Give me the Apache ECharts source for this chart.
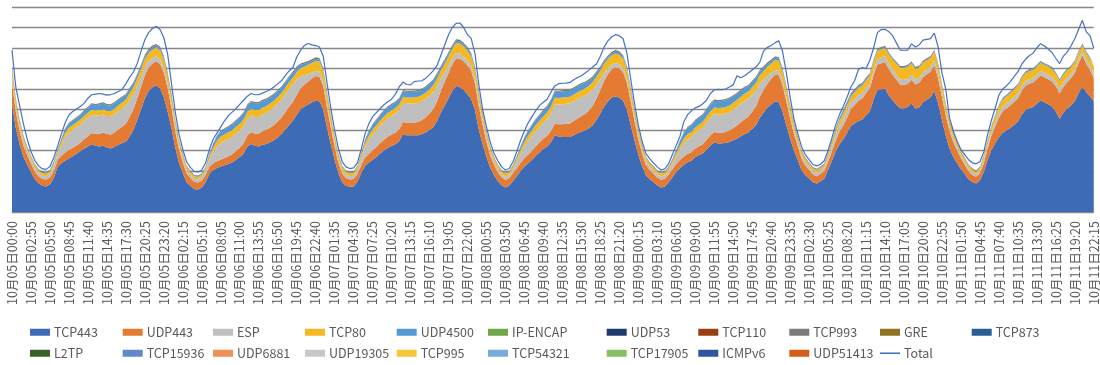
<!DOCTYPE html>
<html><head><meta charset="utf-8">
<script src="https://cdn.jsdelivr.net/npm/echarts@6/dist/echarts.min.js"></script>
<style>html,body{margin:0;padding:0;background:#fff}#c{width:1100px;height:365px}</style>
</head><body><div id="c"></div>
<script>
// 35-minute samples from 10月05日00:00 to 10月11日22:15
const stepMinutes = 35;

const tcp443 = [
53,41,33,27,23,19.5,16,14,12.8,12.5,
13.5,16.5,22,23.8,25,26.2,27.2,28.4,29.6,31,
32,33,32.3,32,32.5,31.5,31,31.8,32.8,33.6,
34.3,37,40,45,50,55.5,59,60.8,61.8,60.2,
56,49,41,31.5,24,19,14.5,12.8,11.2,11,
12,14.5,18.5,20.5,21.5,22.2,22.8,23.4,24.2,25.5,
26.8,28.5,32,33.2,32.3,32,32.8,33.2,34,35,
36.4,38,40.2,42.5,44.5,47.5,50,51.5,52.5,53.5,
54.3,54,50,41,33,25.5,19,14.5,12.8,12.3,
12.5,14.8,19,22.5,24,25.5,26.8,28.5,30,31.3,
32.2,33,34.5,38,37.5,37.4,37.5,37.4,38,38.8,
40,41.5,44.5,48.5,52,55.5,59,61.5,61,59.5,
57.5,55,49.5,40,33,26.8,21.5,18,15,13,
11.9,12.8,15.2,17.5,20,22.2,23.8,25.5,27.5,29.2,
30.8,32,34,37.4,36.8,36.6,36.6,36.6,37.5,38.4,
39.2,39.7,40.8,42.3,45,48,51.5,54,55.8,56.4,
55.8,54.3,50,42.5,35,28,22.5,18,16,14.6,
13,12,12.5,14.5,17,19.5,21.5,23,24.3,25,
26.8,27.8,28.5,30.5,32.5,34,33.4,33.5,33.7,34.1,
35,35.8,37,38,38.8,40.5,42.3,46,48.5,50.8,
52.5,54,53.5,49,42.5,36,30,25.5,20.5,18,
16.5,14.5,13.9,15,16.2,20.5,25,29.5,33,35.5,
38.5,42,43.2,44.5,45,47.2,49,55,59.5,59.8,
60.2,57,54.5,52.5,50.6,50.6,51.2,53,50.4,51,
53.5,54.8,56,59,53,45,37.5,31,27,23.8,
21,18.5,16,14.6,13.9,15.5,19.5,25.2,30,33.4,
36.5,38.6,39.7,41,42.5,44,47.5,49.8,50.6,51.2,
52.8,54.5,53.5,52.6,51.5,49,45.5,48.5,50.5,52,
54,58,61,58.5,56.5,54];

const udp443 = [
10,8,6.5,5.5,4.8,4.2,3.8,3.5,3.3,3.3,
3.3,3.4,3.4,3.7,4,4,4.1,4.1,4.2,4.6,
5,5.5,5.8,6.2,6.3,6.5,6.8,7,7.5,8,
8.8,9.5,10,10.5,11,11.3,11.5,11.7,11.7,12,
12,11.5,10,8,6.5,5.2,4.3,3.8,3.5,3.4,
3.4,3.5,3.5,3.3,3.2,3.3,3.5,3.8,4,4.3,
4.6,5,5.4,5.7,6,6.3,6.6,6.9,7.2,7.5,
7.8,8.1,8.4,8.8,9.2,9.7,10.2,10.7,11.2,11.6,
12,12,11.5,10,8.2,6.5,5,4.2,3.8,3.6,
3.6,3.7,3.8,4,4.3,4.6,4.9,5.1,5.3,5.5,
5.6,5.7,5.8,5.9,6,6,6.2,6.5,6.9,7.4,
8,8.8,9.7,10.6,11.5,12.3,13,13.5,13.8,14,
14,13.8,13,11.5,9.5,7.5,6,5,4.3,3.9,
3.7,3.7,3.8,3.9,4,4.1,4.2,4.4,4.6,4.8,
5,5.2,5.5,5.8,6,6.2,6.4,6.6,6.9,7.2,
7.6,8.1,8.7,9.5,10.5,11.5,12.5,13.3,13.8,14.2,
14.3,14,13.2,11.5,9.5,7.5,6,5,4.5,4.1,
3.8,3.7,3.7,3.8,3.9,4,4,4.1,4.1,4.1,
4.2,4.3,4.5,4.7,4.9,5,5.1,5.2,5.3,5.6,
6,6.4,6.8,7.3,7.8,8.4,9.2,10.2,11,11.8,
12.5,13,13.3,12.8,11.5,9.8,8.2,6.8,5.5,4.7,
4.1,3.8,3.6,3.6,3.7,4,4.5,5.2,6,6.8,
7.5,8.2,9,9.8,10.4,10.8,11.2,11.8,12.5,12.8,
13,12.8,12.4,12,11.6,11.4,11.4,11.5,11.8,12,
12.2,12.4,12.5,12.6,12.2,11.2,9.8,8.5,7.2,6.2,
5.2,4.5,3.9,3.5,3.3,3.4,4.2,5.5,7,8.2,
9.5,10.5,10.8,11,11.2,11.4,11.6,11.8,12,12,
12.1,12.2,12.2,12.2,12.3,12.3,12.3,12.5,12.8,13.2,
13.8,14.6,15.5,14,12.8,11.4];

const esp = [
3,2.5,2.2,2,1.8,1.7,1.6,1.6,1.6,1.6,
1.8,2.5,2.8,5,7.5,8.5,8.8,8.9,8.9,9,
9,9,9,9,8.8,8.8,9,9,9,9,
8.8,8.3,7.5,6.2,5,4,3.2,2.8,2.5,2.4,
2.3,2.2,2,1.9,1.8,1.7,1.6,1.6,1.5,1.5,
1.6,2,3.5,5.5,7.2,8.2,8.4,8.5,8.5,8.5,
8.4,8.3,8.2,8.1,8.1,8.1,8.2,8.3,8.4,8.5,
8.6,8.7,8.8,8.8,8.5,7.5,6,4.5,3.5,2.8,
2.5,2.4,2.3,2.1,1.9,1.8,1.7,1.6,1.6,1.6,
1.6,1.9,3,5,6.8,7.8,8.2,8.5,8.7,8.9,
9,9.2,9.3,9.4,9.5,9.5,9.4,9.3,9.2,9,
8.7,8.2,7.3,6,4.6,3.6,2.9,2.6,2.5,2.4,
2.4,2.3,2.2,2.1,2,1.8,1.7,1.6,1.6,1.6,
1.6,1.6,1.9,3,4.5,5.8,6.8,7.3,7.5,7.6,
7.8,8.2,8.8,9.3,9.6,9.8,9.8,9.8,9.7,9.5,
9.3,9,8.5,7.8,6.6,5.2,3.8,2.8,2.3,2.1,
2,2,2,1.9,1.8,1.7,1.7,1.6,1.6,1.6,
1.6,1.6,1.6,1.8,2.5,3.5,5,6.5,7.2,7.4,
7.6,7.9,8.2,8.5,8.7,8.9,9,9,9,9,
9,9,9,8.9,8.7,8.4,7.8,6.5,5,3.7,
2.8,2.3,2.2,2.1,2,1.9,1.8,1.7,1.6,1.6,
1.6,1.6,1.6,1.6,1.7,2,2.4,2.8,3.1,3.3,
3.3,3.2,3,2.8,2.6,2.5,2.4,2.4,2.6,2.8,
2.9,2.8,2.6,2.5,2.4,2.4,2.4,2.4,2.4,2.4,
2.4,2.4,2.4,2.4,2.3,2.2,2,1.9,1.8,1.7,
1.6,1.5,1.4,1.4,1.3,1.4,1.6,1.8,2,2.2,
2.3,2.4,2.4,2.4,2.4,2.4,2.3,2.2,2.2,2.1,
2.1,2.1,2.1,2.2,2.2,2.3,2.4,2.3,2.2,2.1,
2,2,1.9,2,2.2,2.4];

const tcp80 = [
4,3,2.5,2,1.6,1.4,1.3,1.2,1.2,1.2,
1.2,1.3,1.4,1.8,2.2,2.4,2.4,2.4,2.4,2.4,
2.4,2.4,2.4,2.4,2.5,2.5,2.5,2.6,2.7,2.8,
3,3.2,3.4,3.6,3.7,3.8,3.9,4,4.2,4.2,
4.1,3.9,3.5,2.8,2.2,1.8,1.5,1.3,1.2,1.2,
1.2,1.3,1.6,2.2,2.8,3.1,3.2,3.2,3.2,3.2,
3.2,3.3,3.3,3.3,3.3,3.3,3.3,3.3,3.3,3.3,
3.3,3.3,3.3,3.3,3.4,3.6,3.9,4.2,4.6,4.8,
5,5,4.8,4.2,3.4,2.7,2,1.6,1.4,1.3,
1.3,1.4,1.6,2,2.2,2.3,2.4,2.5,2.6,2.7,
2.8,2.8,2.8,2.9,2.9,2.9,2.9,3,3,3.1,
3.2,3.4,3.6,3.9,4.2,4.5,4.7,4.9,4.9,4.9,
4.8,4.7,4.4,3.8,3.1,2.5,2,1.7,1.5,1.4,
1.3,1.3,1.4,1.6,1.9,2.2,2.5,2.7,2.9,3,
3.1,3.2,3.2,3.2,3.2,3.2,3.2,3.2,3.2,3.3,
3.4,3.5,3.6,3.8,4,4.2,4.4,4.5,4.6,4.6,
4.6,4.5,4.3,3.7,3.1,2.5,2,1.7,1.5,1.4,
1.3,1.3,1.3,1.3,1.5,1.7,2,2.2,2.4,2.5,
2.6,2.7,2.8,2.9,3,3.1,3.2,3.2,3.2,3.3,
3.3,3.4,3.4,3.5,3.5,3.6,3.8,4,4.3,4.5,
4.7,4.8,4.8,4.6,4.1,3.5,2.8,2.3,1.9,1.6,
1.4,1.3,1.3,1.3,1.3,1.5,1.8,2.1,2.4,2.6,
2.8,3,3.2,3.5,3.7,3.8,3.9,4,4,4,
3.9,4.2,4.8,5.3,5.6,5.8,5.8,5.5,5.2,5,
4.7,4.4,4.2,4,3.8,3.4,3,2.6,2.2,1.9,
1.7,1.5,1.3,1.2,1.1,1.2,1.5,1.8,2.2,2.6,
3,3.3,3.4,3.5,3.6,3.7,3.8,3.8,3.9,3.9,
3.9,3.9,3.9,3.8,3.8,3.7,3.7,3.6,3.5,3.3,
3.2,3,2.9,3,3.1,3.3];

const udp4500 = [
.8,.6,.5,.4,.4,.3,.3,.3,.3,.3,
.4,.6,.6,1.1,1.6,1.9,2,2,2.1,2.2,
2.3,2.5,2.6,2.8,2.8,2.8,2.7,2.6,2.5,2.3,
2.1,1.9,1.7,1.5,1.4,1.3,1.2,1.1,1,1,
1,.9,.8,.6,.5,.4,.3,.3,.3,.3,
.3,.5,.9,1.5,2.1,2.4,2.5,2.6,2.7,2.8,
2.9,3,3.1,3.2,3.3,3.3,3.2,3.1,3,2.9,
2.8,2.7,2.5,2.4,2.2,2,1.7,1.4,1.1,1,
.9,.9,.8,.7,.6,.5,.4,.3,.3,.3,
.3,.4,.7,1.3,1.8,2.2,2.4,2.5,2.6,2.6,
2.6,2.6,2.6,2.7,2.7,2.7,2.7,2.7,2.6,2.5,
2.4,2.2,2,1.7,1.4,1.2,1.1,1,1,1,
1,.9,.8,.7,.6,.5,.4,.3,.3,.3,
.3,.3,.4,.8,1.3,1.8,2.2,2.4,2.5,2.6,
2.7,2.8,2.9,3,3,3,3,3,3,2.9,
2.8,2.6,2.4,2.1,1.8,1.5,1.2,1,.9,.9,
.9,.9,.8,.7,.6,.5,.4,.3,.3,.3,
.3,.3,.3,.4,.7,1.2,2,2.7,3.1,3.3,
3.3,3.3,3.3,3.3,3.3,3.3,3.3,3.3,3.3,3.2,
3.1,3,2.9,2.8,2.6,2.4,2.2,1.9,1.6,1.3,
1.1,1,1,.9,.8,.7,.6,.5,.4,.3,
.3,.3,.3,.3,.3,.4,.6,.8,1,1.2,
1.3,1.2,1.1,1,.9,.8,.7,.6,.5,.5,
.5,.5,.4,.4,.4,.4,.4,.4,.4,.4,
.4,.4,.4,.4,.4,.3,.3,.3,.3,.2,
.2,.2,.2,.2,.2,.2,.2,.3,.3,.4,
.4,.4,.4,.4,.4,.4,.4,.4,.4,.4,
.4,.4,.4,.4,.4,.4,.4,.4,.4,.4,
.4,.4,.4,.4,.4,.4];

const tcp993 = [
.8,.6,.5,.5,.4,.4,.4,.4,.4,.4,
.4,.4,.4,.5,.5,.5,.5,.5,.5,.5,
.6,.6,.6,.6,.6,.6,.6,.6,.6,.6,
.6,.7,.7,.7,.8,.8,.8,.8,.8,.8,
.8,.8,.7,.6,.5,.5,.4,.4,.4,.4,
.4,.4,.5,.5,.5,.5,.5,.5,.6,.6,
.6,.6,.6,.6,.6,.6,.6,.6,.6,.6,
.6,.6,.6,.6,.7,.7,.7,.8,.8,.8,
.8,.8,.8,.7,.6,.5,.5,.4,.4,.4,
.4,.4,.5,.5,.5,.5,.5,.6,.6,.6,
.6,.6,.6,.6,.6,.6,.6,.6,.6,.6,
.6,.7,.7,.7,.8,.8,.8,.8,.8,.8,
.8,.8,.8,.7,.6,.5,.5,.4,.4,.4,
.4,.4,.4,.5,.5,.5,.5,.5,.5,.5,
.6,.6,.6,.6,.6,.6,.6,.6,.6,.6,
.6,.6,.7,.7,.7,.7,.8,.8,.8,.8,
.8,.8,.8,.7,.6,.5,.5,.4,.4,.4,
.4,.4,.4,.4,.4,.5,.5,.5,.5,.5,
.5,.5,.5,.6,.6,.6,.6,.6,.6,.6,
.6,.6,.6,.6,.6,.7,.7,.7,.7,.8,
.8,.8,.8,.8,.7,.6,.5,.5,.4,.4,
.4,.4,.4,.4,.4,.4,.4,.5,.5,.5,
.5,.5,.5,.5,.5,.5,.5,.6,.6,.6,
.6,.6,.6,.6,.6,.6,.6,.6,.6,.6,
.6,.6,.6,.6,.6,.6,.5,.5,.5,.4,
.4,.4,.4,.4,.4,.4,.4,.4,.4,.4,
.5,.5,.5,.5,.5,.5,.5,.5,.5,.5,
.5,.5,.5,.5,.5,.5,.5,.5,.5,.5,
.5,.5,.5,.5,.5,.5];

const total = [
79,61,52,43,35.5,29.5,25.2,22.5,21,20.8,
22.2,26.5,32,38,43.5,47.3,49,50.3,51.5,53,
55.5,57.2,57.5,57.8,57.5,57,57.3,57.8,58.8,59.8,
62.5,65.8,68.3,72.5,78.5,84,87.5,89.5,90.6,89,
85,77,63,49,38,30.5,24.5,21.8,19.8,19.5,
20.5,24,30.5,35.5,38.5,41.5,44.5,47,48.7,50.5,
52.5,54.5,56.5,57.8,57.2,57.2,58,58.8,59.6,61,
62.5,64,66.5,68.8,70.5,75.5,78.8,81.2,82.2,81.5,
81.2,80.5,76,63,50.5,40,31,24.5,22,21.2,
21.5,24,30.5,38,43,46.5,48.5,50.5,52.3,53.8,
55,57.5,61,63.4,62.2,62,63.6,63.9,64,65.2,
67,69,71.5,76.5,81.5,86.5,90,92,92.2,90,
86.5,84.6,77,62,50,41.5,34,28.5,25,22,
20.5,21.2,24.5,29.5,35,39.5,43.5,46.5,49.5,52,
53.5,55,58.5,61.5,62.6,62.8,62.9,63.2,64.5,65.6,
66.5,67.8,69.2,70.7,72.2,76,80.5,83.5,85.5,86.5,
86,84.5,77.5,65,53,42.5,34.5,28.5,26,24,
22,20.5,21,23.5,28,32.5,37,44,47.5,49.3,
50.8,51.5,52.8,54.5,57.8,59.5,59.8,59.7,60,61,
62,66.5,65.5,66.5,67.8,69.3,70.7,73,78.5,80.3,
81.2,82.5,83.5,78.5,68,56,45.5,38.5,32,28,
25.5,23.2,22.5,23.3,25,30,36,42.5,47.5,51.5,
56,61,64,69.5,70.5,70,74,80,87.5,89,
89.1,88,86,82.5,79,78.9,79,82,80.5,81.5,
83.8,84.2,84.6,87.3,80.5,68,60,46,39.5,34.5,
30.5,28,25.5,24,23.5,24.5,29,37.5,44.5,50.5,
57,60,61.5,63.5,66,68.3,72,74.5,76.2,77.5,
80,82.1,81,79.5,77.8,75,72.4,76,78,81,
84.5,89,93.5,88,86,80];

// stacked protocols in legend order (no readable thickness for the unlisted ones)
const seriesNames = ['TCP443','UDP443','ESP','TCP80','UDP4500','IP-ENCAP','UDP53','TCP110','TCP993','GRE','TCP873',
  'L2TP','TCP15936','UDP6881','UDP19305','TCP995','TCP54321','TCP17905','ICMPv6','UDP51413'];
const seriesData = {TCP443: tcp443, UDP443: udp443, ESP: esp, TCP80: tcp80, UDP4500: udp4500, TCP993: tcp993};
const seriesColors = ['#3D6BB5','#E57B33','#BFBFBF','#F4B922','#5599D3','#6EA84A','#1F3B6E','#963F12','#7A7A7A','#8F7420','#2A5F93',
  '#3A6127','#6288CC','#EE9257','#C8C8C8','#F6C634','#78ACDC','#86C064','#2F54A0','#D2601A'];

function pad(n){ return (n < 10 ? '0' : '') + n; }
const categories = [];
for (let i = 0; i < tcp443.length; i++) {
  const m = i * stepMinutes;
  const day = 5 + Math.floor(m / 1440);
  const r = m % 1440;
  categories.push('10月' + pad(day) + '日' + pad(Math.floor(r / 60)) + ':' + pad(r % 60));
}

const font = '"Noto Sans CJK JP", "Noto Sans", sans-serif';
const series = [];
seriesNames.forEach((n, k) => {
  series.push({
    name: n, type: 'line', stack: 'traffic', data: seriesData[n] || [],
    symbol: 'none', smooth: false,
    lineStyle: {width: 0, color: seriesColors[k]},
    itemStyle: {color: seriesColors[k]},
    areaStyle: {color: seriesColors[k], opacity: 1}
  });
});
series.push({
  name: 'Total', type: 'line', data: total, symbol: 'none', z: 5,
  lineStyle: {width: 1.2, color: '#4472C4'}, itemStyle: {color: '#4472C4'}
});

const legendRows = [
  ['TCP443','UDP443','ESP','TCP80','UDP4500','IP-ENCAP','UDP53','TCP110','TCP993','GRE','TCP873'],
  ['L2TP','TCP15936','UDP6881','UDP19305','TCP995','TCP54321','TCP17905','ICMPv6','UDP51413','Total']
];
const legendLeft = [30, 122.7, 213, 305, 396.7, 488, 606.7, 698.3, 789.3, 880, 971.7];
const legendTop = [326, 347];
const legends = [];
legendRows.forEach((row, r) => row.forEach((name, c) => {
  const isTotal = name === 'Total';
  legends.push({
    data: [name], left: legendLeft[c], top: legendTop[r], padding: 0,
    itemWidth: 20, itemHeight: isTotal ? 1.6 : 7, itemGap: 0, selectedMode: false,
    icon: 'rect',
    textStyle: {fontSize: 12.5, color: '#595959', fontFamily: font, padding: [0,0,0,-1]}
  });
}));

const chart = echarts.init(document.getElementById('c'), null, {renderer: 'canvas'});
chart.setOption({
  animation: false,
  backgroundColor: '#fff',
  grid: {left: 12, right: 5, top: 7, bottom: 153, containLabel: false},
  xAxis: {
    type: 'category', data: categories, boundaryGap: false,
    axisLine: {show: true, lineStyle: {color: '#8a8a8a', width: 1}},
    axisTick: {show: false},
    axisLabel: {interval: 4, rotate: 90, margin: 9, fontSize: 12.5, color: '#595959', fontFamily: font}
  },
  yAxis: {
    type: 'value', min: 0, max: 100, interval: 10,
    axisLabel: {show: false}, axisLine: {show: false}, axisTick: {show: false},
    splitLine: {show: true, lineStyle: {color: '#888888', width: 1.3}}
  },
  legend: legends,
  series: series
});
</script></body></html>
